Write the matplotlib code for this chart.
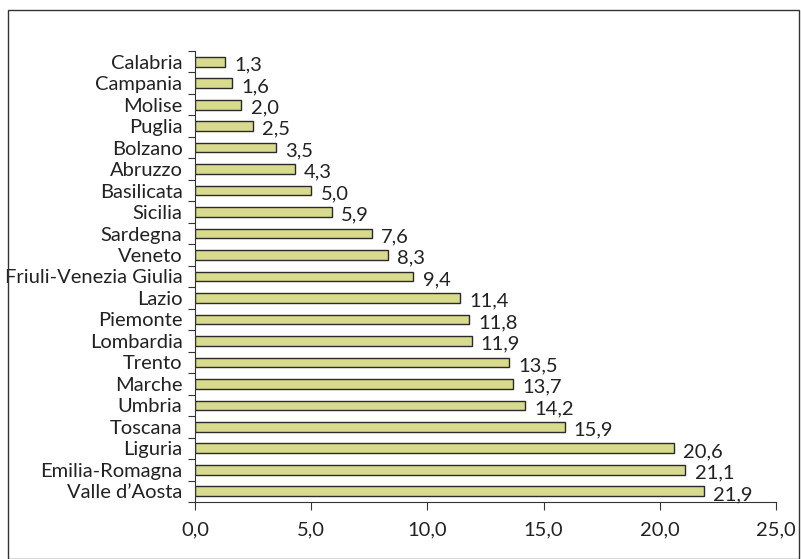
import matplotlib
matplotlib.use("Agg")
import matplotlib.pyplot as plt
from matplotlib.patches import Rectangle

regions = ["Calabria", "Campania", "Molise", "Puglia", "Bolzano", "Abruzzo",
           "Basilicata", "Sicilia", "Sardegna", "Veneto", "Friuli-Venezia Giulia",
           "Lazio", "Piemonte", "Lombardia", "Trento", "Marche", "Umbria",
           "Toscana", "Liguria", "Emilia-Romagna", "Valle d\u2019Aosta"]
values = [1.3, 1.6, 2.0, 2.5, 3.5, 4.3, 5.0, 5.9, 7.6, 8.3, 9.4,
          11.4, 11.8, 11.9, 13.5, 13.7, 14.2, 15.9, 20.6, 21.1, 21.9]
xticks = [0, 5, 10, 15, 20, 25]


def it(v):
    return f"{v:.1f}".replace(".", ",")


plt.rcParams["font.family"] = ["Lato", "DejaVu Sans"]
FS = 14.5

fig = plt.figure(figsize=(8.01, 5.59), dpi=100)
ax = fig.add_axes([0.2434, 0.102, 0.7254, 0.8068])

ypos = list(range(len(regions)))
ax.barh(ypos, values, height=0.45, color="#d8da8e", edgecolor="#2a2a2a", linewidth=1.0)
for y, v in zip(ypos, values):
    ax.text(v + 0.4, y + 0.15, it(v), va="center", ha="left", fontsize=FS, color="#222222")

ax.set_ylim(len(regions) - 0.5, -0.5)
ax.set_xlim(0, 25)
ax.set_yticks([i - 0.5 for i in range(len(regions) + 1)])
ax.set_yticklabels([])
ax.set_yticks(ypos, minor=True)
ax.set_yticklabels(regions, minor=True, fontsize=FS, color="#222222")
ax.tick_params(axis="y", which="minor", length=0, pad=9)
ax.tick_params(axis="y", which="major", length=5, direction="out", color="#333333")
ax.set_xticks(xticks)
ax.set_xticklabels([it(v) for v in xticks], fontsize=FS, color="#222222")
ax.tick_params(axis="x", length=6, direction="out", pad=8, color="#333333")
for s in ("top", "right"):
    ax.spines[s].set_visible(False)
for s in ("left", "bottom"):
    ax.spines[s].set_color("#333333")

fig.patches.append(Rectangle((8 / 801, 0), 791 / 801, 549 / 559, transform=fig.transFigure,
                             fill=False, edgecolor="#333333", linewidth=1.0))

fig.savefig("out.png", dpi=100)
